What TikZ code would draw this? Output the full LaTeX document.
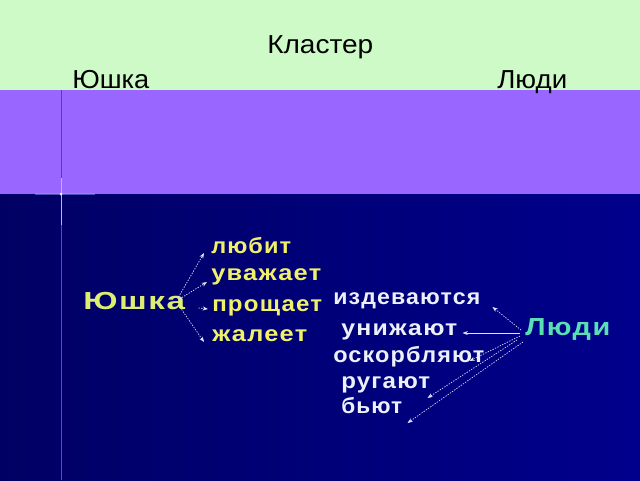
\documentclass[tikz,border=0pt]{standalone}
\usepackage{fontspec}
\usepackage{graphicx}
\setmainfont{Liberation Sans}
\newfontfamily\widefont[LetterSpace=5]{Liberation Sans}
\usetikzlibrary{calc,arrows.meta}
\newlength{\pxu}\setlength{\pxu}{0.75pt}
\newcommand{\fitw}[2]{\resizebox{#1\pxu}{\height}{#2}}
\definecolor{greenbg}{RGB}{206,250,200}
\definecolor{purplebg}{RGB}{153,102,255}
\definecolor{navyL}{RGB}{0,0,100}
\definecolor{navyM}{RGB}{30,30,170}
\definecolor{navyR}{RGB}{0,0,140}
\definecolor{yellowtxt}{RGB}{240,240,105}
\definecolor{yushka}{RGB}{222,238,115}
\definecolor{whitetxt}{RGB}{236,240,250}
\definecolor{lyudi}{RGB}{90,222,180}
\definecolor{arrowc}{RGB}{225,230,255}
\tikzset{
  toplbl/.style={anchor=base west,inner sep=0pt,text=black,font=\fontsize{19.5}{20}\selectfont},
  boldword/.style={anchor=base west,inner sep=0pt,font=\widefont\bfseries\fontsize{16.5}{17}\selectfont},
  bigword/.style={anchor=base west,inner sep=0pt,font=\widefont\bfseries\fontsize{18.5}{19}\selectfont},
  yw/.style={boldword,text=yellowtxt},
  ww/.style={boldword,text=whitetxt},
  arr/.style={draw=arrowc,line width=0.5pt,dash pattern=on 1pt off 1pt,-{Stealth[length=4pt,width=3pt]}},
  arrsolid/.style={draw=arrowc,line width=0.6pt,-{Stealth[length=4pt,width=3pt]}}
}
\begin{document}
\begin{tikzpicture}[x=0.75pt,y=-0.75pt]
\useasboundingbox (0,0) rectangle (640,480);
% background bands
\fill[greenbg] (0,0) rectangle (640,90);
\draw[white,opacity=0.6,line width=0.6pt] (0,90) -- (640,90);
\fill[purplebg] (0,90) rectangle (640,194);
\shade[left color=navyL,middle color=navyM,right color=navyR] (0,194) rectangle (640,480);
% vertical line and sparkle
\draw[color={rgb,255:red,90;green,60;blue,190},line width=0.6pt] (61,90) -- (61,194);
\draw[color={rgb,255:red,70;green,80;blue,210},line width=0.6pt] (61,194) -- (61,480);
\draw[color={rgb,255:red,150;green,160;blue,255},opacity=0.5,line width=1.5pt] (35,194) -- (95,194);
\draw[white,opacity=0.6,line width=0.5pt] (61,178) -- (61,225);
\fill[white,opacity=0.8] (61,194) circle (1.5);
% top labels
\node[toplbl] (title) at (267,53) {\fitw{106}{Кластер}};
\node[toplbl] (ytop) at (72,88) {\fitw{77}{Юшка}};
\node[toplbl] (ltop) at (497,88) {\fitw{70}{Люди}};
% left cluster
\node[bigword,text=yushka] (yu) at (83,309) {\fitw{102}{Юшка}};
\node[yw] (lyubit) at (211,253) {\fitw{80}{любит}};
\node[yw] (uvazh) at (211,280) {\fitw{110}{уважает}};
\node[yw] (prosch) at (212,311) {\fitw{110}{прощает}};
\node[yw] (zhal) at (212,341) {\fitw{95}{жалеет}};
% right cluster
\node[ww] (izd) at (333,304) {\fitw{147}{издеваются}};
\node[ww] (unizh) at (341,335) {\fitw{116}{унижают}};
\node[ww] (oskorb) at (333,362) {\fitw{151}{оскорбляют}};
\node[ww] (rug) at (341,388) {\fitw{89}{ругают}};
\node[ww] (byut) at (341,413) {\fitw{61}{бьют}};
\node[bigword,text=lyudi] (lyudi) at (525,335) {\fitw{85}{Люди}};
% left arrows
\draw[arr] ($(yu.base east)+(-7,-12)$) -- ($(lyubit.base west)+(-7,0)$);
\draw[arr] ($(yu.base east)+(-6,-10)$) -- ($(uvazh.base west)+(-4,2)$);
\draw[arr] ($(yu.base east)+(13,-1)$) -- ($(prosch.base west)+(-4,-2)$);
\draw[arr] ($(yu.base east)+(-7,-4)$) -- ($(zhal.base west)+(-8,1)$);
% right arrows
\draw[arr] ($(lyudi.base west)+(-4,-5)$) -- ($(izd.base east)+(12,3)$);
\draw[arrsolid] ($(lyudi.base west)+(-5,-2)$) -- ($(unizh.base east)+(5,-2)$);
\draw[arr] ($(lyudi.base west)+(-5,1)$) -- ($(oskorb.base east)+(-15,-1)$);
\draw[arr] ($(lyudi.base west)+(-8,5)$) -- ($(rug.base east)+(-3,10)$);
\draw[arr] ($(lyudi.base west)+(-2,7)$) -- ($(byut.base east)+(5,10)$);
\end{tikzpicture}
\end{document}
